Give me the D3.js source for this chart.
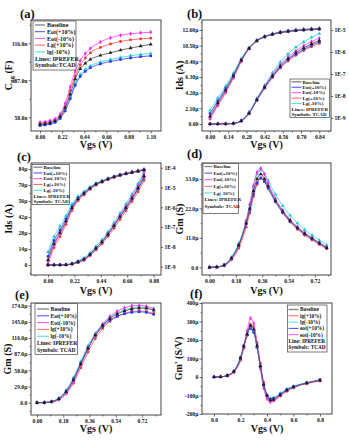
<!DOCTYPE html>
<html>
<head>
<meta charset="utf-8">
<script src="https://d3js.org/d3.v7.min.js"></script>
<style>
  body { margin: 0; background: #fff; }
  text { font-family: "Liberation Serif", "DejaVu Serif", serif; font-weight: bold; fill: #111; }
</style>
</head>
<body>
<div id="my_dataviz"></div>
<script>
/*
 * Six panel IPREFER vs TCAD comparison (Cgg, Ids, Gm, Gm')
 */

// ---------- data ----------
// (a) Cgg (n) vs Vgs
var aVgs  = [0, 0.05, 0.1, 0.15, 0.2, 0.25, 0.3, 0.35, 0.4, 0.45, 0.5, 0.6, 0.7, 0.8, 0.9, 1.0, 1.1];
var aBase = [52.5, 53.0, 53.8, 55.2, 58.5, 65.5, 76, 88, 96, 100.3, 103.3, 106.5, 108.6, 110.6, 112.3, 113.8, 115.2];
var aEotP = [51.5, 52, 52.7, 54, 57, 63, 72.5, 83, 90, 94, 96.8, 99.8, 101.8, 103.3, 104.5, 105.5, 106.2];
var aEotM = [54, 54.5, 55.3, 56.8, 60.5, 69, 82, 94, 102.5, 108, 112, 117, 120.3, 122.3, 123.5, 124.2, 124.7];
var aLgP  = [53.2, 53.7, 54.5, 56, 59.5, 67, 79, 90.5, 99, 104.5, 108.5, 112.8, 115.5, 117.4, 118.7, 119.5, 120];
var aLgM  = [52, 52.5, 53.3, 54.8, 58, 64.5, 74, 84.5, 91.5, 95.5, 98.3, 101.3, 103.3, 104.9, 106.3, 107.3, 108.1];
var aXTicks = [0, 0.22, 0.44, 0.66, 0.88, 1.10];
var aXLabels = ["0.00", "0.22", "0.44", "0.66", "0.88", "1.10"];
var aYTicks = [58, 87, 116];
var aYLabels = ["58.0n", "87.0n", "116.0n"];

// (b) Ids in uA (linear + log)
var bVgs  = [0, 0.06, 0.12, 0.18, 0.24, 0.3, 0.36, 0.42, 0.48, 0.54, 0.6, 0.66, 0.72, 0.78, 0.84];
var bBase = [0.0012, 0.0047, 0.018, 0.079, 0.42, 1.45, 3.25, 4.95, 6.45, 7.75, 8.75, 9.55, 10.2, 10.75, 11.2];
var bEotP = [0.0016, 0.006, 0.022, 0.09, 0.44, 1.45, 3.2, 4.85, 6.3, 7.6, 8.6, 9.35, 10.0, 10.55, 11.0];
var bEotM = [0.0010, 0.004, 0.016, 0.072, 0.40, 1.47, 3.3, 5.05, 6.6, 7.95, 9.0, 9.8, 10.5, 11.05, 11.5];
var bLgP  = [0.0009, 0.0036, 0.014, 0.065, 0.36, 1.38, 3.15, 4.8, 6.25, 7.5, 8.45, 9.2, 9.85, 10.35, 10.8];
var bLgM  = [0.0022, 0.008, 0.028, 0.11, 0.5, 1.6, 3.45, 5.2, 6.85, 8.3, 9.4, 10.3, 11.0, 11.6, 12.1];
var bXTicks = [0, 0.14, 0.28, 0.42, 0.56, 0.70, 0.84];
var bXLabels = ["0.00", "0.14", "0.28", "0.42", "0.56", "0.70", "0.84"];
var bYTicks = [0, 2.1, 4.2, 6.3, 8.4, 10.5, 12.6];
var bYLabels = ["0.00", "2.10\u03bc", "4.20\u03bc", "6.30\u03bc", "8.40\u03bc", "10.50\u03bc", "12.60\u03bc"];
var bLogTicks = [1e-9, 1e-8, 1e-7, 1e-6, 1e-5];
var bLogLabels = ["1E-9", "1E-8", "1E-7", "1E-6", "1E-5"];

// (c) Ids in uA (linear + log)
var cVgs  = [0, 0.05, 0.1, 0.15, 0.2, 0.25, 0.3, 0.35, 0.4, 0.45, 0.5, 0.55, 0.6, 0.65, 0.7, 0.75, 0.8];
var cBase = [0.0022, 0.0145, 0.052, 0.2, 0.9, 2.6, 4.9, 9.0, 14.5, 20.0, 26.8, 34.3, 42.3, 50.2, 58.5, 67.5, 78.0];
var cEotP = [0.0033, 0.021, 0.072, 0.26, 1.1, 2.95, 5.3, 9.4, 14.9, 20.3, 27.0, 34.3, 42.0, 49.6, 57.6, 66.3, 76.5];
var cEotM = [0.0018, 0.012, 0.044, 0.175, 0.83, 2.5, 4.85, 9.0, 14.7, 20.4, 27.5, 35.2, 43.5, 51.7, 60.2, 69.5, 80.3];
var cLgP  = [0.0013, 0.009, 0.033, 0.135, 0.68, 2.1, 4.2, 8.0, 13.2, 18.5, 25.0, 32.2, 39.8, 47.5, 55.5, 64.0, 74.0];
var cLgM  = [0.0055, 0.033, 0.11, 0.38, 1.45, 3.6, 6.2, 10.6, 16.4, 22.2, 29.3, 37.1, 45.3, 53.5, 62.1, 71.4, 82.5];
var cXTicks = [0, 0.22, 0.44, 0.66, 0.88];
var cXLabels = ["0.00", "0.22", "0.44", "0.66", "0.88"];
var cYTicks = [0, 14, 28, 42, 56, 70, 84];
var cYLabels = ["0", "14\u03bc", "28\u03bc", "42\u03bc", "56\u03bc", "70\u03bc", "84\u03bc"];
var cLogTicks = [1e-9, 1e-8, 1e-7, 1e-6, 1e-5, 1e-4];
var cLogLabels = ["1E-9", "1E-8", "1E-7", "1E-6", "1E-5", "1E-4"];

// (d) Gm in uS
var dVgs  = [0, 0.05, 0.1, 0.15, 0.2, 0.25, 0.275, 0.3, 0.325, 0.35, 0.375, 0.4, 0.45, 0.5, 0.55, 0.6, 0.65, 0.7, 0.75, 0.8];
var dBase = [0, 0.1, 0.8, 3.3, 8.2, 16.5, 22.0, 28.5, 33.0, 34.8, 33.0, 30.3, 25.0, 20.9, 17.5, 14.8, 12.6, 10.8, 9.0, 7.3];
var dEotP = [0, 0.12, 0.9, 3.5, 8.4, 16.2, 21.3, 27.3, 31.6, 33.4, 32.0, 29.5, 24.5, 20.5, 17.2, 14.6, 12.4, 10.6, 8.9, 7.2];
var dEotM = [0, 0.09, 0.7, 3.1, 8.2, 17.3, 23.5, 30.5, 35.5, 37.0, 34.8, 31.5, 25.6, 21.3, 17.8, 15.1, 12.9, 11.0, 9.2, 7.5];
var dLgP  = [0, 0.07, 0.6, 2.8, 7.2, 15.0, 20.3, 26.5, 31.0, 33.3, 32.3, 29.8, 24.5, 20.3, 16.9, 14.2, 12.0, 10.2, 8.5, 6.9];
var dLgM  = [0, 0.14, 1.0, 3.8, 9.0, 17.5, 23.5, 30.0, 34.8, 36.3, 35.0, 32.4, 27.2, 23.0, 19.4, 16.5, 14.0, 12.0, 10.1, 8.3];
var dXTicks = [0, 0.18, 0.36, 0.54, 0.72];
var dXLabels = ["0.00", "0.18", "0.36", "0.54", "0.72"];
var dYTicks = [0, 11, 22, 33];
var dYLabels = ["0.0", "11.0\u03bc", "22.0\u03bc", "33.0\u03bc"];

// (e) Gm in uS
var eVgs  = [0, 0.05, 0.1, 0.15, 0.2, 0.25, 0.3, 0.35, 0.4, 0.45, 0.5, 0.55, 0.6, 0.65, 0.7, 0.75, 0.8];
var eBase = [0, 0.3, 1.8, 6.8, 19.5, 40.5, 69, 97.5, 121, 138.5, 151, 159, 164.5, 168, 169.8, 169.3, 165.7];
var eEotP = [0, 0.35, 2.1, 7.6, 21, 42.5, 71, 98.5, 120.5, 136.5, 148, 155, 159.5, 162, 163, 162, 158.5];
var eEotM = [0, 0.25, 1.5, 6, 17.5, 38, 67, 97, 122, 141, 155, 164, 170, 173.5, 174.5, 173, 168];
var eLgP  = [0, 0.2, 1.3, 5.2, 16, 35, 62.5, 91, 115, 133, 146, 154.5, 160, 163.5, 164.5, 163.5, 160];
var eLgM  = [0, 0.4, 2.3, 8.2, 22.5, 45, 74, 102, 124.5, 141, 153, 161, 166.5, 170, 171.8, 171.5, 169];
var eXTicks = [0, 0.18, 0.36, 0.54, 0.72];
var eXLabels = ["0.00", "0.18", "0.36", "0.54", "0.72"];
var eYTicks = [0, 29, 58, 87, 116, 145, 174];
var eYLabels = ["0.0", "29.0\u03bc", "58.0\u03bc", "87.0\u03bc", "116.0\u03bc", "145.0\u03bc", "174.0\u03bc"];

// (f) Gm' in uS/V
var fVgs  = [0, 0.05, 0.1, 0.15, 0.2, 0.225, 0.25, 0.275, 0.3, 0.325, 0.35, 0.375, 0.4, 0.425, 0.45, 0.5, 0.55, 0.6, 0.7, 0.8];
var fBase = [0, 1, 8, 30, 100, 165, 232, 278, 258, 170, 60, -40, -100, -125, -122, -98, -72, -55, -33, -18];
var fEotP = [0, 1, 9, 32, 105, 168, 228, 262, 240, 160, 55, -45, -100, -120, -116, -92, -68, -52, -32, -15];
var fEotM = [0, 1, 7, 28, 98, 170, 250, 318, 290, 175, 45, -60, -118, -135, -128, -100, -72, -55, -33, -17];
var fLgP  = [0, 1, 6, 25, 90, 155, 225, 283, 272, 185, 75, -30, -98, -128, -127, -103, -77, -58, -36, -22];
var fLgM  = [0, 1, 9, 33, 108, 170, 232, 268, 245, 160, 55, -40, -98, -115, -112, -88, -65, -50, -30, -16];
var fXTicks = [0, 0.2, 0.4, 0.6, 0.8];
var fXLabels = ["0.0", "0.2", "0.4", "0.6", "0.8"];
var fYTicks = [-200, -100, 0, 100, 200, 300, 400];
var fYLabels = ["-200\u03bc", "-100\u03bc", "0", "100\u03bc", "200\u03bc", "300\u03bc", "400\u03bc"];

// legend texts
var legendStd = ["Baseline", "Eot(+10%)", "Eot(-10%)", "Lg(+10%)", "Lg(-10%)"];
var legendE = ["Baseline", "Eot(+10%)", "Eot(-10%)", "lg(+10%)", "lg(-10%)"];
var legendF = ["Baseline", "lg(+10%)", "lg(-10%)", "eot(+10%)", "eot(-10%)"];

// ---------- styling ----------
var drawOrder = ["lgM", "lgP", "eotM", "eotP", "base"];
var colors = { base: "#5a5a5a", eotP: "#4a4aff", eotM: "#ff4cff", lgP: "#ff6262", lgM: "#3edede" };
var markColors = { base: "#1e1e1e", eotP: "#3030f0", eotM: "#f030f0", lgP: "#f03a3a", lgM: "#22cccc" };
var symbols = { base: d3.symbolTriangle, eotP: d3.symbolSquare, eotM: d3.symbolDiamond, lgP: d3.symbolCircle, lgM: d3.symbolTriangle };
var tickFont = 5.6;

var svg = d3.select("#my_dataviz")
  .append("svg")
  .attr("width", 349)
  .attr("height", 441);

function minorTicks(ticks, scale, lo, hi) {
  var step = ticks[1] - ticks[0], out = [];
  for (var i = -1; i < ticks.length; i++) {
    var v = ticks[0] + (i + 0.5) * step;
    var px = scale(v);
    if (px > lo + 0.5 && px < hi - 0.5) out.push(v);
  }
  return out;
}

function styleAxis(a) {
  a.select(".domain").remove();
  a.attr("font-family", null).attr("font-size", null);
  a.selectAll("line").attr("stroke", "#333").attr("stroke-width", 0.7);
  a.selectAll("text").style("font-size", tickFont + "px");
}

function drawPanel(p) {
  var g = svg.append("g");
  var f = p.frame; // [left, top, right, bottom]
  var x = d3.scaleLinear().domain(p.xAnchor).range(p.xPix);
  var y = d3.scaleLinear().domain(p.yAnchor).range(p.yPix);
  var yLog = p.logAnchor ? d3.scaleLog().domain(p.logAnchor).range(p.logPix) : null;

  svg.append("clipPath").attr("id", "clip" + p.id)
    .append("rect")
    .attr("x", f[0]).attr("y", f[1])
    .attr("width", f[2] - f[0]).attr("height", f[3] - f[1]);

  // x axis + minor ticks
  var ax = g.append("g")
    .attr("transform", "translate(0," + f[3] + ")")
    .call(d3.axisBottom(x).tickValues(p.xTicks)
      .tickFormat(function (d, i) { return p.xLabels[i]; })
      .tickSize(2.5).tickPadding(1.2));
  styleAxis(ax);
  var axm = g.append("g")
    .attr("transform", "translate(0," + f[3] + ")")
    .call(d3.axisBottom(x).tickValues(minorTicks(p.xTicks, x, f[0], f[2])).tickFormat("").tickSize(1.4));
  styleAxis(axm);

  // y axis + minor ticks
  var ay = g.append("g")
    .attr("transform", "translate(" + f[0] + ",0)")
    .call(d3.axisLeft(y).tickValues(p.yTicks)
      .tickFormat(function (d, i) { return p.yLabels[i]; })
      .tickSize(2.5).tickPadding(1.2));
  styleAxis(ay);
  var aym = g.append("g")
    .attr("transform", "translate(" + f[0] + ",0)")
    .call(d3.axisLeft(y).tickValues(minorTicks(p.yTicks, y, f[1], f[3])).tickFormat("").tickSize(1.4));
  styleAxis(aym);

  // right log axis
  if (yLog) {
    var ar = g.append("g")
      .attr("transform", "translate(" + f[2] + ",0)")
      .call(d3.axisRight(yLog).tickValues(p.logTicks)
        .tickFormat(function (d, i) { return p.logLabels[i]; })
        .tickSize(2.2).tickPadding(1.2));
    styleAxis(ar);
  }

  // curves (IPREFER lines) and symbols (TCAD)
  var plot = g.append("g").attr("clip-path", "url(#clip" + p.id + ")");
  var line = d3.line().curve(d3.curveMonotoneX);
  var yFns = [function (v) { return y(v); }];
  if (yLog) yFns.push(function (v) { return yLog(v * 1e-6); });

  drawOrder.forEach(function (k) {
    var vals = p.series[k];
    yFns.forEach(function (yf) {
      var pts = p.vgs.map(function (v, i) { return [x(v), yf(vals[i])]; });
      plot.append("path")
        .attr("d", line(pts))
        .attr("fill", "none")
        .attr("stroke", colors[k])
        .attr("stroke-width", 0.9);
      plot.selectAll(null)
        .data(pts)
        .enter()
        .append("path")
        .attr("transform", function (d) { return "translate(" + d[0] + "," + d[1] + ")"; })
        .attr("d", d3.symbol().type(symbols[k]).size(6.5))
        .attr("fill", markColors[k]);
    });
  });

  // frame
  g.append("rect")
    .attr("x", f[0]).attr("y", f[1])
    .attr("width", f[2] - f[0]).attr("height", f[3] - f[1])
    .attr("fill", "none")
    .attr("stroke", "#333")
    .attr("stroke-width", 0.9);

  // titles
  g.append("text")
    .attr("x", (f[0] + f[2]) / 2)
    .attr("y", p.xTitleY)
    .attr("text-anchor", "middle")
    .style("font-size", "10px")
    .text(p.xTitle);

  var yt = g.append("text")
    .attr("transform", "translate(" + p.yTitleX + "," + ((f[1] + f[3]) / 2) + ") rotate(-90)")
    .attr("text-anchor", "middle")
    .style("font-size", "10px");
  p.yTitle.forEach(function (part) {
    var t = yt.append("tspan").text(part[0]);
    if (part[1]) t.style("font-size", "7px").attr("dy", 2.5);
    else if (part[2]) t.attr("dy", -2.5);
  });

  g.append("text")
    .attr("x", p.labelPos[0])
    .attr("y", p.labelPos[1])
    .style("font-size", "12.5px")
    .text(p.id);

  // legend
  var L = p.legend;
  var lg = g.append("g");
  lg.append("rect")
    .attr("x", L.box[0]).attr("y", L.box[1])
    .attr("width", L.box[2] - L.box[0]).attr("height", L.box[3] - L.box[1])
    .attr("fill", "#fff")
    .attr("stroke", "#444")
    .attr("stroke-width", 0.7);
  L.keys.forEach(function (k, i) {
    var yy = L.first + i * L.step;
    lg.append("line")
      .attr("x1", L.lineX[0]).attr("x2", L.lineX[1])
      .attr("y1", yy).attr("y2", yy)
      .attr("stroke", k === "base" ? "#888" : colors[k])
      .attr("stroke-width", k === "base" ? 1.4 : 1);
    lg.append("text")
      .attr("x", L.textX).attr("y", yy)
      .attr("dy", "0.35em")
      .style("font-size", L.size + "px")
      .text(L.labels[i]);
  });
  L.notes.forEach(function (t, j) {
    lg.append("text")
      .attr("x", L.lineX[0])
      .attr("y", L.first + (L.keys.length + j) * L.step)
      .attr("dy", "0.35em")
      .style("font-size", L.size + "px")
      .text(t);
  });
}

var stdKeys = ["base", "eotP", "eotM", "lgP", "lgM"];

var panels = [
  {
    id: "(a)", labelPos: [20, 18], frame: [31, 20, 161, 131],
    xAnchor: [0, 1.1], xPix: [40, 150.7], yAnchor: [58, 116], yPix: [117.3, 43.3],
    xTicks: aXTicks, xLabels: aXLabels, yTicks: aYTicks, yLabels: aYLabels,
    vgs: aVgs, series: { base: aBase, eotP: aEotP, eotM: aEotM, lgP: aLgP, lgM: aLgM },
    xTitle: "Vgs  (V)", xTitleY: 148, yTitleX: 11.5, yTitle: [["C"], ["gg", true], [" (F)", false, true]],
    legend: { box: [33, 21, 76, 70], first: 25, step: 6.7, lineX: [35, 45], textX: 47, size: 6,
      keys: stdKeys, labels: ["Baseline", "Eot(+10%)", "Eot(-10%)", "Lg(+10%)", "lg(-10%)"], notes: ["Lines: IPREFER", "Symbols:TCAD"] }
  },
  {
    id: "(b)", labelPos: [187, 18], frame: [202, 20, 331, 131],
    xAnchor: [0, 0.84], xPix: [210, 319.3], yAnchor: [0, 12.6], yPix: [124, 30],
    logAnchor: [1e-9, 1e-5], logPix: [118, 30], logTicks: bLogTicks, logLabels: bLogLabels,
    xTicks: bXTicks, xLabels: bXLabels, yTicks: bYTicks, yLabels: bYLabels,
    vgs: bVgs, series: { base: bBase, eotP: bEotP, eotM: bEotM, lgP: bLgP, lgM: bLgM },
    xTitle: "Vgs (V)", xTitleY: 148, yTitleX: 183, yTitle: [["Ids (A)"]],
    legend: { box: [290, 79, 329.5, 117.5], first: 81.8, step: 5.45, lineX: [291.5, 301.5], textX: 302.5, size: 5,
      keys: stdKeys, labels: legendStd, notes: ["Lines: IPREFER", "Symbols: TCAD"] }
  },
  {
    id: "(c)", labelPos: [17, 161], frame: [31, 163, 161, 275],
    xAnchor: [0, 0.88], xPix: [48, 153.6], yAnchor: [0, 84], yPix: [265, 169],
    logAnchor: [1e-9, 1e-4], logPix: [266.7, 167.7], logTicks: cLogTicks, logLabels: cLogLabels,
    xTicks: cXTicks, xLabels: cXLabels, yTicks: cYTicks, yLabels: cYLabels,
    vgs: cVgs, series: { base: cBase, eotP: cEotP, eotM: cEotM, lgP: cLgP, lgM: cLgM },
    xTitle: "Vgs (V)", xTitleY: 293.5, yTitleX: 11.5, yTitle: [["Ids (A)"]],
    legend: { box: [32, 164.5, 69.5, 204.5], first: 167.2, step: 5.75, lineX: [33.5, 42.5], textX: 43.5, size: 5,
      keys: stdKeys, labels: legendStd, notes: ["Lines: IPREFER", "Symbols: TCAD"] }
  },
  {
    id: "(d)", labelPos: [187, 158], frame: [202, 163, 331, 275],
    xAnchor: [0, 0.72], xPix: [209.5, 315], yAnchor: [0, 33], yPix: [267.3, 179],
    xTicks: dXTicks, xLabels: dXLabels, yTicks: dYTicks, yLabels: dYLabels,
    vgs: dVgs, series: { base: dBase, eotP: dEotP, eotM: dEotM, lgP: dLgP, lgM: dLgM },
    xTitle: "Vgs (V)", xTitleY: 293.5, yTitleX: 183, yTitle: [["Gm (S)"]],
    legend: { box: [203, 163.5, 238.5, 213.5], first: 166.5, step: 6.6, lineX: [204.5, 212.5], textX: 213.5, size: 5,
      keys: stdKeys, labels: legendStd, notes: ["Lines: IPREFER", "Symbols: TCAD"] }
  },
  {
    id: "(e)", labelPos: [15, 299], frame: [31, 303, 161, 415],
    xAnchor: [0, 0.72], xPix: [37, 142], yAnchor: [0, 174], yPix: [402.7, 305.7],
    xTicks: eXTicks, xLabels: eXLabels, yTicks: eYTicks, yLabels: eYLabels,
    vgs: eVgs, series: { base: eBase, eotP: eEotP, eotM: eEotM, lgP: eLgP, lgM: eLgM },
    xTitle: "Vgs (V)", xTitleY: 432, yTitleX: 10.5, yTitle: [["Gm (S)"]],
    legend: { box: [35, 303.5, 77.5, 354.5], first: 309, step: 6.8, lineX: [37, 49], textX: 50.5, size: 5.5,
      keys: stdKeys, labels: legendE, notes: ["Lines: IPREFER", "Symbols: TCAD"] }
  },
  {
    id: "(f)", labelPos: [190, 298], frame: [202, 303, 332, 414],
    xAnchor: [0, 0.8], xPix: [214, 320], yAnchor: [-200, 400], yPix: [414, 303],
    xTicks: fXTicks, xLabels: fXLabels, yTicks: fYTicks, yLabels: fYLabels,
    vgs: fVgs, series: { base: fBase, eotP: fEotP, eotM: fEotM, lgP: fLgP, lgM: fLgM },
    xTitle: "Vgs (V)", xTitleY: 432, yTitleX: 182, yTitle: [["Gm' (S/V)"]],
    legend: { box: [287.5, 305, 327, 352], first: 309.5, step: 6.3, lineX: [288.5, 298.5], textX: 300, size: 5.3,
      keys: ["base", "lgP", "lgM", "eotP", "eotM"], labels: legendF, notes: ["Line: IPREFER", "Symbols: TCAD"] }
  }
];

panels.forEach(drawPanel);
</script>
</body>
</html>
